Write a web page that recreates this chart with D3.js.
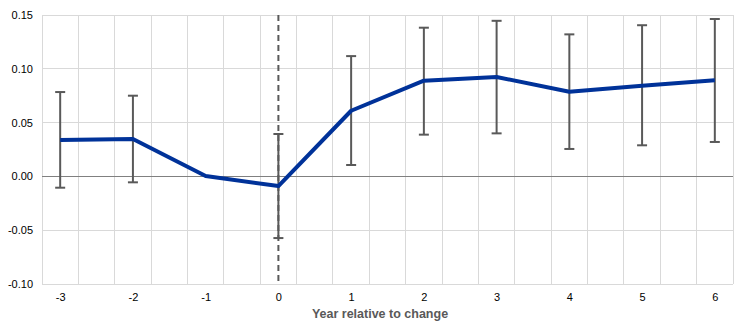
<!DOCTYPE html>
<html><head><meta charset="utf-8">
<script src="https://cdn.jsdelivr.net/npm/d3@7"></script>
<style>body{margin:0;background:#fff}svg{display:block}text{font-family:"Liberation Sans",Arial,sans-serif}</style>
</head><body>
<svg id="c" width="744" height="323"></svg>
<script>
const years = [-3, -2, -1, 0, 1, 2, 3, 4, 5, 6];
const estimate = [0.0338, 0.0347, 0.0003, -0.009, 0.061, 0.089, 0.0924, 0.0787, 0.0843, 0.0893];
const upper = [0.0784, 0.075, null, 0.0394, 0.1118, 0.1382, 0.1446, 0.132, 0.1405, 0.1463];
const lower = [-0.0105, -0.0055, null, -0.0573, 0.0106, 0.0388, 0.040, 0.0255, 0.0289, 0.032];
const yTicks = [-0.10, -0.05, 0.00, 0.05, 0.10, 0.15];
const xTitle = "Year relative to change";

const svg = d3.select("#c");
const L = 42, R = 733, T = 15, B = 284;
const x = d3.scaleLinear().domain([-3.25, 6.25]).range([L, R]);
const y = d3.scaleLinear().domain([-0.10, 0.15]).range([B, T]);
const fmtY = d => d3.format(".2f")(d).replace("\u2212", "-");
const fmtX = d => String(d);

// vertical gridlines every half unit
const vg = d3.range(-3.25, 6.26, 0.5);
svg.append("g").selectAll("line").data(vg).join("line")
  .attr("x1", d => x(d)).attr("x2", d => x(d)).attr("y1", T).attr("y2", B)
  .attr("stroke", "#d9d9d9").attr("stroke-width", 1).attr("shape-rendering", "crispEdges");
// horizontal gridlines
svg.append("g").selectAll("line").data(yTicks.filter(d => d !== 0)).join("line")
  .attr("x1", L).attr("x2", R).attr("y1", d => y(d)).attr("y2", d => y(d))
  .attr("stroke", "#d9d9d9").attr("stroke-width", 1).attr("shape-rendering", "crispEdges");
// zero line
svg.append("line").attr("x1", L).attr("x2", R).attr("y1", y(0)).attr("y2", y(0))
  .attr("stroke", "#808080").attr("stroke-width", 1).attr("shape-rendering", "crispEdges");

// y axis labels
const yAxis = d3.axisLeft(y).tickValues(yTicks).tickFormat(fmtY).tickSize(0).tickPadding(9);
const ga = svg.append("g").attr("transform", `translate(${L},0)`).call(yAxis);
ga.select(".domain").remove();
ga.selectAll("text").attr("font-size", 11).attr("fill", "#000").attr("font-family", "Liberation Sans, Arial, sans-serif");

// x axis labels
const xAxis = d3.axisBottom(x).tickValues(years).tickFormat(fmtX).tickSize(0).tickPadding(9);
const gx = svg.append("g").attr("transform", `translate(0,${B})`).call(xAxis);
gx.select(".domain").remove();
gx.selectAll("text").attr("font-size", 11).attr("fill", "#000").attr("font-family", "Liberation Sans, Arial, sans-serif");

svg.append("text").attr("x", 380).attr("y", 318).attr("text-anchor", "middle")
  .attr("font-size", 12.5).attr("font-weight", "bold").attr("fill", "#595959").text(xTitle);

// dashed vertical line at 0
svg.append("line").attr("x1", x(0)).attr("x2", x(0)).attr("y1", T).attr("y2", B)
  .attr("stroke", "#595959").attr("stroke-width", 2).attr("stroke-dasharray", "6,4");

// error bars
const eb = years.map((d, i) => ({x: d, lo: lower[i], hi: upper[i]})).filter(d => d.lo !== null);
const g = svg.append("g").attr("stroke", "#595959").attr("stroke-width", 2);
g.selectAll(".v").data(eb).join("line")
  .attr("x1", d => x(d.x)).attr("x2", d => x(d.x)).attr("y1", d => y(d.hi)).attr("y2", d => y(d.lo));
g.selectAll(".t").data(eb).join("line")
  .attr("x1", d => x(d.x) - 5).attr("x2", d => x(d.x) + 5).attr("y1", d => y(d.hi)).attr("y2", d => y(d.hi));
g.selectAll(".b").data(eb).join("line")
  .attr("x1", d => x(d.x) - 5).attr("x2", d => x(d.x) + 5).attr("y1", d => y(d.lo)).attr("y2", d => y(d.lo));

// line
const line = d3.line().x((d, i) => x(years[i])).y(d => y(d));
svg.append("path").datum(estimate).attr("d", line).attr("fill", "none")
  .attr("stroke", "#003299").attr("stroke-width", 4).attr("stroke-linejoin", "round");
</script>
</body></html>
